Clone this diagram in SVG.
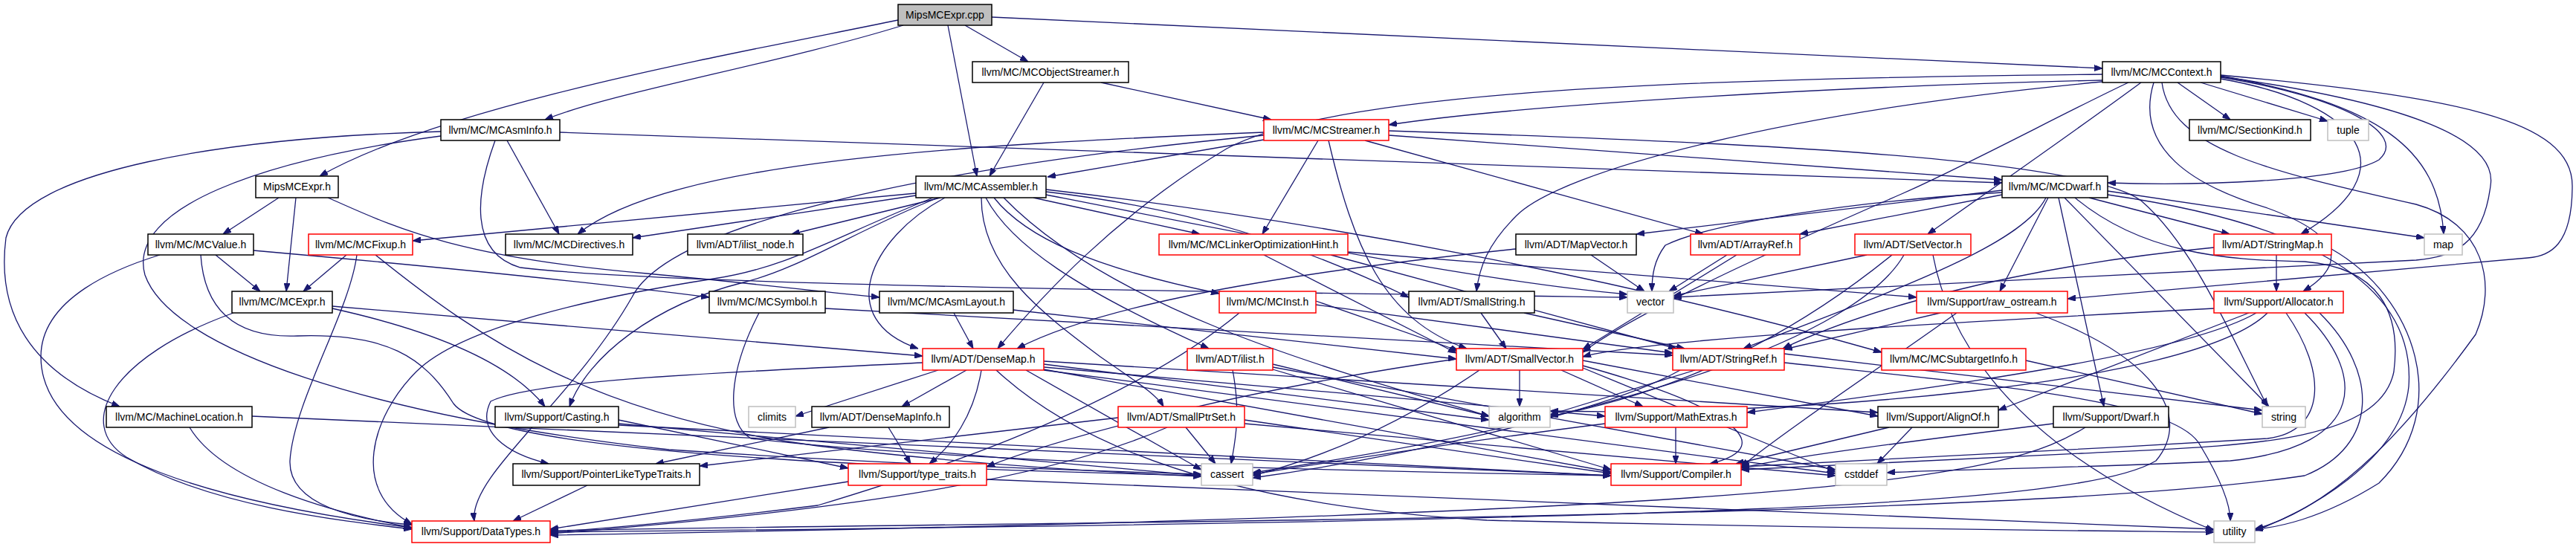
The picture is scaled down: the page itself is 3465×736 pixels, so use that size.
<svg xmlns="http://www.w3.org/2000/svg" width="3465" height="736" viewBox="0 0 3465 736">
<style>
.e{fill:none;stroke:#191970;stroke-width:1.3;marker-end:url(#a)}
.n rect{fill:#fff;stroke:#000;stroke-width:1.5}
.r rect{stroke:#ff0000}
.g rect{stroke:#bfbfbf}
.s rect{fill:#bfbfbf}
text{font-family:"Liberation Sans",Arial,sans-serif;font-size:14px;text-anchor:middle;fill:#000}
</style>
<defs>
<marker id="a" markerUnits="userSpaceOnUse" markerWidth="11" markerHeight="8" refX="11" refY="4" orient="auto"><path d="M0,0 L11,4 L0,8 z" fill="#191970" stroke="#191970" stroke-width="1"/></marker>
</defs>
<rect width="3465" height="736" fill="#fff"/>
<g id="edges">
<path class="e" d="M1208,27 C1000,70 600,140 430,237"/>
<path class="e" d="M1215,34 C1050,85 820,125 733,161"/>
<path class="e" d="M1275,34 L1314,237"/>
<path class="e" d="M1298,34 L1383,83"/>
<path class="e" d="M1334,23 L2828,92"/>
<path class="e" d="M1404,111 L1331,237"/>
<path class="e" d="M1481,111 L1710,161"/>
<path class="e" d="M593,177 C300,185 30,230 8,320 C-5,420 40,500 161,547"/>
<path class="e" d="M682,189 L752,315"/>
<path class="e" d="M753,178 L2693,246"/>
<path class="e" d="M593,183 C350,215 170,280 195,370 C230,470 500,560 900,605 C1200,625 1450,633 1616,638"/>
<path class="e" d="M666,189 C640,260 630,340 700,360 C900,385 1800,395 2189,400"/>
<path class="e" d="M375,266 L300,315"/>
<path class="e" d="M398,266 L385,392"/>
<path class="e" d="M441,266 C520,300 600,345 870,368 C1000,380 1100,392 1183,400"/>
<path class="e" d="M290,343 L350,392"/>
<path class="e" d="M341,337 C600,360 800,380 954,400"/>
<path class="e" d="M215,343 C160,360 55,400 55,480 C55,620 320,680 554,710"/>
<path class="e" d="M270,343 C275,420 320,455 400,452 C520,448 570,480 610,543 C660,610 1200,630 1616,640"/>
<path class="e" d="M466,343 L408,392"/>
<path class="e" d="M480,343 C470,420 395,540 390,620 C388,680 480,700 554,706"/>
<path class="e" d="M505,343 C650,460 800,560 1100,600 C1300,625 1500,636 1616,641"/>
<path class="e" d="M447,415 C560,440 680,480 733,547"/>
<path class="e" d="M447,412 L1241,479"/>
<path class="e" d="M314,421 C150,480 100,570 170,615 C280,680 450,700 554,712"/>
<path class="e" d="M1110,415 L2250,478"/>
<path class="e" d="M1021,421 C980,500 975,570 1010,590 C1300,625 1900,635 2167,640"/>
<path class="e" d="M1283,421 L1309,469"/>
<path class="e" d="M1363,417 L1959,483"/>
<path class="e" d="M1232,263 L851,320"/>
<path class="e" d="M1232,260 L555,324"/>
<path class="e" d="M1265,266 L1065,315"/>
<path class="e" d="M1262,266 C1150,310 1080,360 1000,380 C880,410 790,480 766,547"/>
<path class="e" d="M1255,266 C1120,320 1060,360 960,375 C800,400 620,440 560,500 C500,560 470,660 554,705"/>
<path class="e" d="M1271,266 C1170,320 1120,430 1235,469"/>
<path class="e" d="M1320,266 C1320,360 1400,420 1480,480 C1530,515 1555,530 1565,547"/>
<path class="e" d="M1326,266 C1360,330 1450,390 1626,469"/>
<path class="e" d="M1337,266 C1380,320 1470,360 1640,395"/>
<path class="e" d="M1390,266 L1614,315"/>
<path class="e" d="M1407,258 C1600,280 1750,330 1895,400"/>
<path class="e" d="M1407,255 C1800,300 2200,380 2531,474"/>
<path class="e" d="M1350,266 C1500,420 1800,500 2003,560"/>
<path class="e" d="M1407,262 C1700,320 2000,380 2189,396"/>
<path class="e" d="M1700,188 L1409,238"/>
<path class="e" d="M1700,178 C1300,195 900,215 777,315"/>
<path class="e" d="M1700,182 C1250,225 900,300 850,400 C770,540 630,640 638,701"/>
<path class="e" d="M1773,189 L1698,315"/>
<path class="e" d="M1787,189 C1820,330 1860,430 1973,469"/>
<path class="e" d="M1836,189 L2291,315"/>
<path class="e" d="M1868,182 L2693,242"/>
<path class="e" d="M1868,176 C2300,190 2800,210 2880,270 C2950,330 3000,450 3050,547"/>
<path class="e" d="M2828,108 C2500,115 2050,140 1868,168"/>
<path class="e" d="M2828,100 C2300,105 1800,120 1650,200 C1500,290 1400,400 1342,469"/>
<path class="e" d="M2828,110 C2400,150 2100,230 2040,290 C2000,330 1990,360 1986,392"/>
<path class="e" d="M2863,111 C2780,150 2650,220 2560,260 C2400,330 2200,420 2129,474"/>
<path class="e" d="M2880,111 C2800,170 2700,240 2593,315"/>
<path class="e" d="M2987,104 C3150,130 3240,180 3200,215 C3150,245 2950,250 2835,246"/>
<path class="e" d="M2929,111 L3000,161"/>
<path class="e" d="M2960,111 L3131,163"/>
<path class="e" d="M2987,102 C3200,140 3280,200 3287,315"/>
<path class="e" d="M2987,106 C3180,140 3240,230 3095,315"/>
<path class="e" d="M2897,111 C2870,200 2950,250 3050,280 C3160,320 3150,360 3098,392"/>
<path class="e" d="M2987,101 C3300,130 3460,160 3460,250 C3460,330 3430,345 3400,347 L2781,402"/>
<path class="e" d="M2987,103 C3250,140 3360,190 3350,250 C3340,330 3300,345 3250,350 L2251,400"/>
<path class="e" d="M2908,111 C2920,200 3050,230 3250,275 C3340,300 3360,380 3330,450 C3250,560 3150,680 3033,712"/>
<path class="e" d="M2755,266 L2690,392"/>
<path class="e" d="M2752,266 C2720,330 2550,390 2345,469"/>
<path class="e" d="M2769,266 L2830,547"/>
<path class="e" d="M2777,266 L3052,547"/>
<path class="e" d="M2810,266 L2999,315"/>
<path class="e" d="M2835,257 L3261,320"/>
<path class="e" d="M2693,256 L2201,315"/>
<path class="e" d="M2693,259 C2500,270 2300,300 2240,330 C2225,350 2222,370 2222,392"/>
<path class="e" d="M2693,262 L2421,315"/>
<path class="e" d="M2791,266 C2880,340 2990,350 3100,352 C3200,360 3230,420 3220,500 C3200,600 3000,600 2800,610 C2600,620 2450,628 2342,632"/>
<path class="e" d="M2835,262 C3100,300 3250,380 3240,520 C3230,620 3100,690 3033,714"/>
<path class="e" d="M2336,343 L2129,470"/>
<path class="e" d="M2323,343 L2245,392"/>
<path class="e" d="M2140,343 L2212,392"/>
<path class="e" d="M2039,335 C1800,360 1500,400 1368,469"/>
<path class="e" d="M2511,343 L2251,398"/>
<path class="e" d="M2545,343 C2450,420 2300,520 2085,560"/>
<path class="e" d="M2561,343 C2500,450 2200,560 1685,636"/>
<path class="e" d="M2600,343 C2620,450 2700,600 2978,714"/>
<path class="e" d="M2978,333 C2700,360 2500,420 2398,469"/>
<path class="e" d="M3062,343 L3062,392"/>
<path class="e" d="M3136,335 C3250,400 3300,550 3200,650 C3120,700 3060,710 3033,712"/>
<path class="e" d="M2978,415 C2500,440 2200,460 2129,480"/>
<path class="e" d="M3025,421 L2688,552"/>
<path class="e" d="M3035,421 C2950,470 2700,510 2350,555"/>
<path class="e" d="M3050,421 C2950,520 2400,560 2085,553"/>
<path class="e" d="M3075,421 C3130,500 3130,580 3050,590 C2800,605 2500,620 2342,628"/>
<path class="e" d="M3100,421 C3180,500 3190,600 3000,620 C2800,630 2600,632 2538,636"/>
<path class="e" d="M3120,421 C3200,500 3200,600 3100,640 C2700,700 1500,700 740,714"/>
<path class="e" d="M2610,421 L2400,470"/>
<path class="e" d="M2632,421 C2550,480 2400,580 2342,628"/>
<path class="e" d="M2738,421 C2900,480 2950,560 2900,620 C2800,680 2300,700 740,716"/>
<path class="e" d="M2725,485 L3043,557"/>
<path class="e" d="M1992,421 L2026,469"/>
<path class="e" d="M2050,421 L2266,469"/>
<path class="e" d="M1770,405 L1962,472"/>
<path class="e" d="M1770,410 L2250,475"/>
<path class="e" d="M1667,421 C1500,560 1200,650 1100,680 C900,705 800,712 740,716"/>
<path class="e" d="M1700,343 L1959,475"/>
<path class="e" d="M1790,343 L2255,469"/>
<path class="e" d="M1813,339 L2578,400"/>
<path class="e" d="M1262,498 L1070,560"/>
<path class="e" d="M1300,498 L1213,547"/>
<path class="e" d="M1320,498 C1310,560 1280,600 1250,624"/>
<path class="e" d="M1241,488 C1000,500 720,510 660,540 C640,580 680,610 738,624"/>
<path class="e" d="M1340,498 C1450,600 1650,680 2000,700 C2500,712 2800,714 2978,716"/>
<path class="e" d="M1404,490 L2003,565"/>
<path class="e" d="M1404,494 L2159,560"/>
<path class="e" d="M1404,486 L2526,555"/>
<path class="e" d="M1404,497 L2167,635"/>
<path class="e" d="M1404,498 L2469,637"/>
<path class="e" d="M1380,498 L1616,632"/>
<path class="e" d="M1115,575 L882,624"/>
<path class="e" d="M1195,575 L1225,624"/>
<path class="e" d="M1504,562 L941,627"/>
<path class="e" d="M1595,575 L1635,624"/>
<path class="e" d="M1674,565 L2167,637"/>
<path class="e" d="M1674,570 L2469,640"/>
<path class="e" d="M1570,575 C1400,650 1100,690 740,718"/>
<path class="e" d="M1658,498 C1670,560 1660,600 1656,624"/>
<path class="e" d="M1712,490 L2003,560"/>
<path class="e" d="M1712,494 L2469,632"/>
<path class="e" d="M1712,497 L2167,632"/>
<path class="e" d="M2044,498 L2044,547"/>
<path class="e" d="M2100,498 L2210,547"/>
<path class="e" d="M2129,485 L2526,560"/>
<path class="e" d="M1990,498 C1900,560 1800,610 1685,640"/>
<path class="e" d="M2129,492 C2320,545 2400,600 2300,624"/>
<path class="e" d="M2129,495 L2469,635"/>
<path class="e" d="M1959,483 C1700,520 1450,580 1327,628"/>
<path class="e" d="M2280,498 L2085,558"/>
<path class="e" d="M2400,476 L3043,552"/>
<path class="e" d="M2260,498 C2150,560 1850,620 1685,643"/>
<path class="e" d="M2400,488 C2700,520 2930,540 2960,600 C2990,650 3000,680 3000,701"/>
<path class="e" d="M2254,575 L2254,624"/>
<path class="e" d="M2159,570 C2000,590 1800,620 1685,638"/>
<path class="e" d="M2541,575 L2335,624"/>
<path class="e" d="M2572,575 L2525,624"/>
<path class="e" d="M2762,570 C2600,590 2400,615 2342,630"/>
<path class="e" d="M2805,575 C2700,640 2500,690 740,720"/>
<path class="e" d="M832,565 L1141,630"/>
<path class="e" d="M832,570 L1616,640"/>
<path class="e" d="M832,572 L2167,640"/>
<path class="e" d="M1327,645 L2978,712"/>
<path class="e" d="M1141,648 L740,712"/>
<path class="e" d="M790,653 L690,701"/>
<path class="e" d="M339,560 L2167,640"/>
<path class="e" d="M255,575 C300,650 450,690 554,710"/>
</g>
<g id="n_cpp" class="n s"><rect x="1208" y="6" width="126" height="28"/><text x="1271" y="25">MipsMCExpr.cpp</text></g>
<g id="n_asminfo" class="n"><rect x="593" y="161" width="160" height="28"/><text x="673" y="180">llvm/MC/MCAsmInfo.h</text></g>
<g id="n_mipsexpr" class="n"><rect x="344" y="237" width="111" height="29"/><text x="399.5" y="256">MipsMCExpr.h</text></g>
<g id="n_objstreamer" class="n"><rect x="1308" y="83" width="210" height="28"/><text x="1413" y="102">llvm/MC/MCObjectStreamer.h</text></g>
<g id="n_assembler" class="n"><rect x="1232" y="237" width="175" height="29"/><text x="1319.5" y="256">llvm/MC/MCAssembler.h</text></g>
<g id="n_context" class="n"><rect x="2828" y="83" width="159" height="28"/><text x="2907.5" y="102">llvm/MC/MCContext.h</text></g>
<g id="n_streamer" class="n r"><rect x="1700" y="161" width="168" height="28"/><text x="1784" y="180">llvm/MC/MCStreamer.h</text></g>
<g id="n_sectionkind" class="n"><rect x="2945" y="161" width="163" height="28"/><text x="3026.5" y="180">llvm/MC/SectionKind.h</text></g>
<g id="n_tuple" class="n g"><rect x="3131" y="161" width="55" height="28"/><text x="3158.5" y="180">tuple</text></g>
<g id="n_dwarf" class="n"><rect x="2693" y="237" width="142" height="29"/><text x="2764" y="256">llvm/MC/MCDwarf.h</text></g>
<g id="n_value" class="n"><rect x="199" y="315" width="142" height="28"/><text x="270" y="334">llvm/MC/MCValue.h</text></g>
<g id="n_fixup" class="n r"><rect x="415" y="315" width="140" height="28"/><text x="485" y="334">llvm/MC/MCFixup.h</text></g>
<g id="n_directives" class="n"><rect x="680" y="315" width="171" height="28"/><text x="765.5" y="334">llvm/MC/MCDirectives.h</text></g>
<g id="n_ilistnode" class="n"><rect x="925" y="315" width="155" height="28"/><text x="1002.5" y="334">llvm/ADT/ilist_node.h</text></g>
<g id="n_lohint" class="n r"><rect x="1559" y="315" width="254" height="28"/><text x="1686" y="334">llvm/MC/MCLinkerOptimizationHint.h</text></g>
<g id="n_mapvector" class="n"><rect x="2039" y="315" width="162" height="28"/><text x="2120" y="334">llvm/ADT/MapVector.h</text></g>
<g id="n_arrayref" class="n r"><rect x="2274" y="315" width="147" height="28"/><text x="2347.5" y="334">llvm/ADT/ArrayRef.h</text></g>
<g id="n_setvector" class="n r"><rect x="2495" y="315" width="156" height="28"/><text x="2573" y="334">llvm/ADT/SetVector.h</text></g>
<g id="n_stringmap" class="n r"><rect x="2978" y="315" width="158" height="28"/><text x="3057" y="334">llvm/ADT/StringMap.h</text></g>
<g id="n_map" class="n g"><rect x="3261" y="315" width="51" height="28"/><text x="3286.5" y="334">map</text></g>
<g id="n_mcexpr" class="n"><rect x="312" y="392" width="135" height="29"/><text x="379.5" y="411">llvm/MC/MCExpr.h</text></g>
<g id="n_symbol" class="n"><rect x="954" y="392" width="156" height="29"/><text x="1032" y="411">llvm/MC/MCSymbol.h</text></g>
<g id="n_asmlayout" class="n"><rect x="1183" y="392" width="180" height="29"/><text x="1273" y="411">llvm/MC/MCAsmLayout.h</text></g>
<g id="n_mcinst" class="n r"><rect x="1640" y="392" width="130" height="29"/><text x="1705" y="411">llvm/MC/MCInst.h</text></g>
<g id="n_smallstring" class="n"><rect x="1895" y="392" width="169" height="29"/><text x="1979.5" y="411">llvm/ADT/SmallString.h</text></g>
<g id="n_vector" class="n g"><rect x="2189" y="392" width="62" height="29"/><text x="2220" y="411">vector</text></g>
<g id="n_rawostream" class="n r"><rect x="2578" y="392" width="203" height="29"/><text x="2679.5" y="411">llvm/Support/raw_ostream.h</text></g>
<g id="n_allocator" class="n r"><rect x="2978" y="392" width="174" height="29"/><text x="3065" y="411">llvm/Support/Allocator.h</text></g>
<g id="n_densemap" class="n r"><rect x="1241" y="469" width="163" height="29"/><text x="1322.5" y="488">llvm/ADT/DenseMap.h</text></g>
<g id="n_ilist" class="n r"><rect x="1597" y="469" width="115" height="29"/><text x="1654.5" y="488">llvm/ADT/ilist.h</text></g>
<g id="n_smallvector" class="n r"><rect x="1959" y="469" width="170" height="29"/><text x="2044" y="488">llvm/ADT/SmallVector.h</text></g>
<g id="n_stringref" class="n r"><rect x="2250" y="469" width="150" height="29"/><text x="2325" y="488">llvm/ADT/StringRef.h</text></g>
<g id="n_subtarget" class="n r"><rect x="2531" y="469" width="194" height="29"/><text x="2628" y="488">llvm/MC/MCSubtargetInfo.h</text></g>
<g id="n_machineloc" class="n"><rect x="143" y="547" width="196" height="28"/><text x="241" y="566">llvm/MC/MachineLocation.h</text></g>
<g id="n_casting" class="n"><rect x="666" y="547" width="166" height="28"/><text x="749" y="566">llvm/Support/Casting.h</text></g>
<g id="n_climits" class="n g"><rect x="1007" y="547" width="63" height="28"/><text x="1038.5" y="566">climits</text></g>
<g id="n_densemapinfo" class="n"><rect x="1092" y="547" width="185" height="28"/><text x="1184.5" y="566">llvm/ADT/DenseMapInfo.h</text></g>
<g id="n_smallptrset" class="n r"><rect x="1504" y="547" width="170" height="28"/><text x="1589" y="566">llvm/ADT/SmallPtrSet.h</text></g>
<g id="n_algorithm" class="n g"><rect x="2003" y="547" width="82" height="28"/><text x="2044" y="566">algorithm</text></g>
<g id="n_mathextras" class="n r"><rect x="2159" y="547" width="191" height="28"/><text x="2254.5" y="566">llvm/Support/MathExtras.h</text></g>
<g id="n_alignof" class="n"><rect x="2526" y="547" width="162" height="28"/><text x="2607" y="566">llvm/Support/AlignOf.h</text></g>
<g id="n_dwarfh" class="n"><rect x="2762" y="547" width="155" height="28"/><text x="2839.5" y="566">llvm/Support/Dwarf.h</text></g>
<g id="n_string" class="n g"><rect x="3043" y="547" width="58" height="28"/><text x="3072" y="566">string</text></g>
<g id="n_pltt" class="n"><rect x="690" y="624" width="251" height="29"/><text x="815.5" y="643">llvm/Support/PointerLikeTypeTraits.h</text></g>
<g id="n_typetraits" class="n r"><rect x="1141" y="624" width="186" height="29"/><text x="1234" y="643">llvm/Support/type_traits.h</text></g>
<g id="n_cassert" class="n g"><rect x="1616" y="624" width="69" height="29"/><text x="1650.5" y="643">cassert</text></g>
<g id="n_compiler" class="n r"><rect x="2167" y="624" width="175" height="29"/><text x="2254.5" y="643">llvm/Support/Compiler.h</text></g>
<g id="n_cstddef" class="n g"><rect x="2469" y="624" width="69" height="29"/><text x="2503.5" y="643">cstddef</text></g>
<g id="n_datatypes" class="n r"><rect x="554" y="701" width="186" height="29"/><text x="647" y="720">llvm/Support/DataTypes.h</text></g>
<g id="n_utility" class="n g"><rect x="2978" y="701" width="55" height="29"/><text x="3005.5" y="720">utility</text></g>
</svg>
